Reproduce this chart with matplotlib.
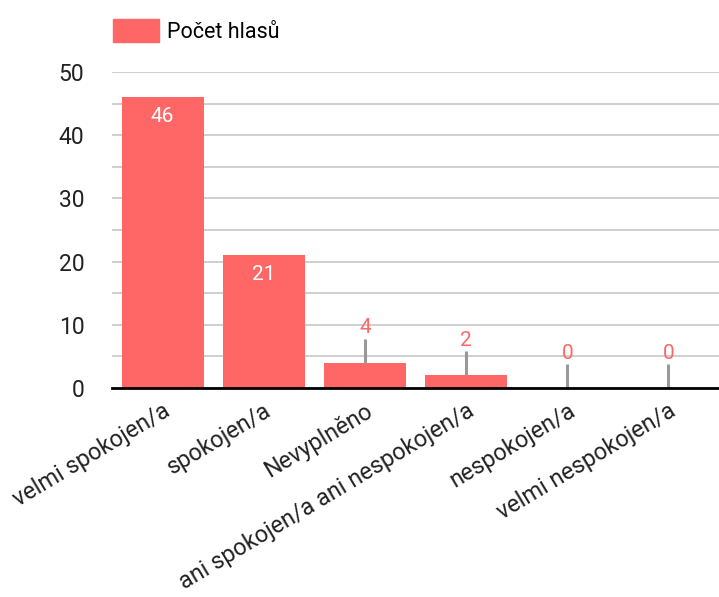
import matplotlib
matplotlib.use("Agg")
import matplotlib.pyplot as plt
from matplotlib.ticker import MultipleLocator
from matplotlib.patches import Patch

categories = ["velmi spokojen/a", "spokojen/a", "Nevyplněno",
              "ani spokojen/a ani nespokojen/a", "nespokojen/a", "velmi nespokojen/a"]
values = [46, 21, 4, 2, 0, 0]
series_name = "Počet hlasů"
yticks = [0, 10, 20, 30, 40, 50]

plt.rcParams['font.family'] = ['Roboto', 'DejaVu Sans']
bar_color = "#ff6666"

fig = plt.figure(figsize=(7.19, 5.97), dpi=100)
ax = fig.add_axes([112/719, 1-388/597, (719-112)/719, 316/597])

x = list(range(len(categories)))
ax.bar(x, values, width=0.81, color=bar_color, zorder=3)
ax.set_xlim(-0.5, len(categories)-0.5)
ax.set_ylim(0, 50)
ax.set_yticks(yticks)
ax.yaxis.set_minor_locator(MultipleLocator(5))
ax.grid(axis='y', which='both', color='#cccccc', linewidth=1.3, zorder=0)
ax.tick_params(axis='y', which='both', length=0, labelsize=16.5, pad=20, colors='#222222')
ax.tick_params(axis='x', length=0, labelsize=16.8, pad=8, colors='#222222')
for s in ['top', 'right', 'left']:
    ax.spines[s].set_visible(False)
ax.spines['bottom'].set_linewidth(2)
ax.spines['bottom'].set_color('black')
ax.spines['bottom'].set_zorder(5)

ax.set_xticks(x)
ax.set_xticklabels(categories, rotation=31, ha='right', rotation_mode='anchor')

for xi, v in zip(x, values):
    if v >= 10:
        ax.text(xi, v - 1.6, str(v), ha='center', va='top', color='white', fontsize=15, zorder=4)
    else:
        ax.plot([xi, xi], [v, v + 3.8], color='#999999', linewidth=2.2, zorder=4, solid_capstyle='butt')
        ax.text(xi, v + 4.0, str(v), ha='center', va='bottom', color=bar_color, fontsize=15, zorder=4)

fig.legend(handles=[Patch(color=bar_color, label=series_name)],
           loc='upper left', bbox_to_anchor=(94/719, 1-0/597), frameon=False,
           fontsize=15.5, handlelength=2.1, handleheight=1.25, handletextpad=0.4)

fig.savefig("out.png", dpi=100, facecolor='white')
